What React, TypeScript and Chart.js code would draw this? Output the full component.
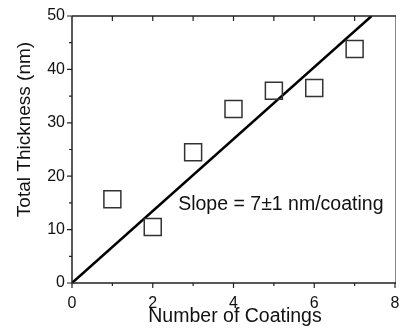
import React, { useEffect, useRef } from "react";
import { Chart, registerables } from "chart.js";

Chart.register(...registerables);

const coatings = [1, 2, 3, 4, 5, 6, 7];
const thickness = [15.7, 10.5, 24.5, 32.6, 36.0, 36.5, 43.8];
const fitX = [0, 7.42];
const fitY = [0, 50];
const xMajor = [0, 2, 4, 6, 8];
const xMinor = [1, 3, 5, 7];
const xTop = [1, 2, 3, 4, 5, 6, 7];
const yMajor = [0, 10, 20, 30, 40, 50];
const yMinor = [5, 15, 25, 35, 45];
const xTitle = "Number of Coatings";
const yTitle = "Total Thickness (nm)";
const annotationText = "Slope = 7\u00B11 nm/coating";
const annotationAt = { x: 2.63, y: 13.7 };

const FONT = "'Liberation Sans', Arial, sans-serif";

const framePlugin = {
  id: "frame",
  afterDatasetsDraw(chart: any) {
    const { ctx, chartArea: a, scales } = chart;
    const xs = scales.x;
    const ys = scales.y;
    ctx.save();
    ctx.fillStyle = "#111";
    ctx.font = `19.5px ${FONT}`;
    ctx.textAlign = "left";
    ctx.textBaseline = "alphabetic";
    ctx.fillText(annotationText, xs.getPixelForValue(annotationAt.x), ys.getPixelForValue(annotationAt.y));

    ctx.textAlign = "center";
    ctx.font = `19.5px ${FONT}`;
    ctx.fillText(xTitle, (a.left + a.right) / 2 + 1.5, 322);
    ctx.save();
    ctx.translate(30, (a.top + a.bottom) / 2 - 20);
    ctx.rotate(-Math.PI / 2);
    ctx.font = `19px ${FONT}`;
    ctx.fillText(yTitle, 0, 0);
    ctx.restore();

    ctx.strokeStyle = "#888";
    ctx.lineWidth = 1;
    ctx.beginPath();
    ctx.moveTo(a.right + 0.5, a.top);
    ctx.lineTo(a.right + 0.5, a.bottom);
    ctx.stroke();

    ctx.strokeStyle = "#222";
    ctx.lineWidth = 1.5;
    ctx.beginPath();
    ctx.moveTo(a.left, a.top);
    ctx.lineTo(a.right + 1, a.top);
    ctx.moveTo(a.left, a.top);
    ctx.lineTo(a.left, a.bottom);
    ctx.lineTo(a.right + 1, a.bottom);
    ctx.stroke();

    ctx.lineWidth = 1.2;
    ctx.beginPath();
    xMajor.forEach((v) => {
      const px = xs.getPixelForValue(v);
      ctx.moveTo(px, a.bottom);
      ctx.lineTo(px, a.bottom + 5);
    });
    xMinor.forEach((v) => {
      const px = xs.getPixelForValue(v);
      ctx.moveTo(px, a.bottom);
      ctx.lineTo(px, a.bottom + 3);
    });
    yMajor.forEach((v) => {
      const py = ys.getPixelForValue(v);
      ctx.moveTo(a.left, py);
      ctx.lineTo(a.left - 5, py);
    });
    yMinor.forEach((v) => {
      const py = ys.getPixelForValue(v);
      ctx.moveTo(a.left, py);
      ctx.lineTo(a.left - 3, py);
    });
    xTop.forEach((v) => {
      const px = xs.getPixelForValue(v);
      ctx.moveTo(px, a.top);
      ctx.lineTo(px, a.top + 5);
    });
    ctx.stroke();
    ctx.restore();
  },
};

export default function App() {
  const ref = useRef<HTMLCanvasElement | null>(null);
  useEffect(() => {
    document.body.style.margin = "0";
    const canvas = ref.current;
    if (!canvas) return;
    const chart = new Chart(canvas, {
      type: "scatter",
      data: {
        datasets: [
          {
            type: "line",
            data: fitX.map((x, i) => ({ x, y: fitY[i] })),
            borderColor: "#000",
            borderWidth: 2.5,
            pointRadius: 0,
            fill: false,
            order: 2,
          } as any,
          {
            data: coatings.map((x, i) => ({ x, y: thickness[i] })),
            pointStyle: "rect",
            pointRadius: 12,
            pointHoverRadius: 12,
            backgroundColor: "rgba(0,0,0,0)",
            borderColor: "#333",
            borderWidth: 1.5,
            order: 1,
          },
        ],
      },
      options: {
        animation: false,
        responsive: false,
        events: [],
        layout: { autoPadding: false, padding: { left: 0, top: 16, right: 5, bottom: 0 } },
        plugins: {
          legend: { display: false },
          tooltip: { enabled: false },
        },
        scales: {
          x: {
            type: "linear",
            min: 0,
            max: 8,
            afterBuildTicks: (s: any) => {
              s.ticks = xMajor.map((v) => ({ value: v }));
            },
            afterFit: (s: any) => {
              s.height = 47;
              s.paddingLeft = 0;
              s.paddingRight = 0;
            },
            grid: { display: false, drawTicks: false },
            border: { display: false },
            ticks: {
              padding: 11,
              color: "#111",
              font: { family: FONT, size: 16 },
              maxRotation: 0,
              autoSkip: false,
            },
          },
          y: {
            type: "linear",
            min: 0,
            max: 50,
            afterBuildTicks: (s: any) => {
              s.ticks = yMajor.map((v) => ({ value: v }));
            },
            afterFit: (s: any) => {
              s.width = 72;
              s.paddingTop = 0;
              s.paddingBottom = 0;
            },
            grid: { display: false, drawTicks: false },
            border: { display: false },
            ticks: {
              padding: 7,
              color: "#111",
              font: { family: FONT, size: 16 },
              autoSkip: false,
            },
          },
        },
      },
      plugins: [framePlugin],
    });
    return () => chart.destroy();
  }, []);
  return (
    <div style={{ position: "absolute", left: 0, top: 0, width: 400, height: 330 }}>
      <canvas ref={ref} width={400} height={330} />
    </div>
  );
}
